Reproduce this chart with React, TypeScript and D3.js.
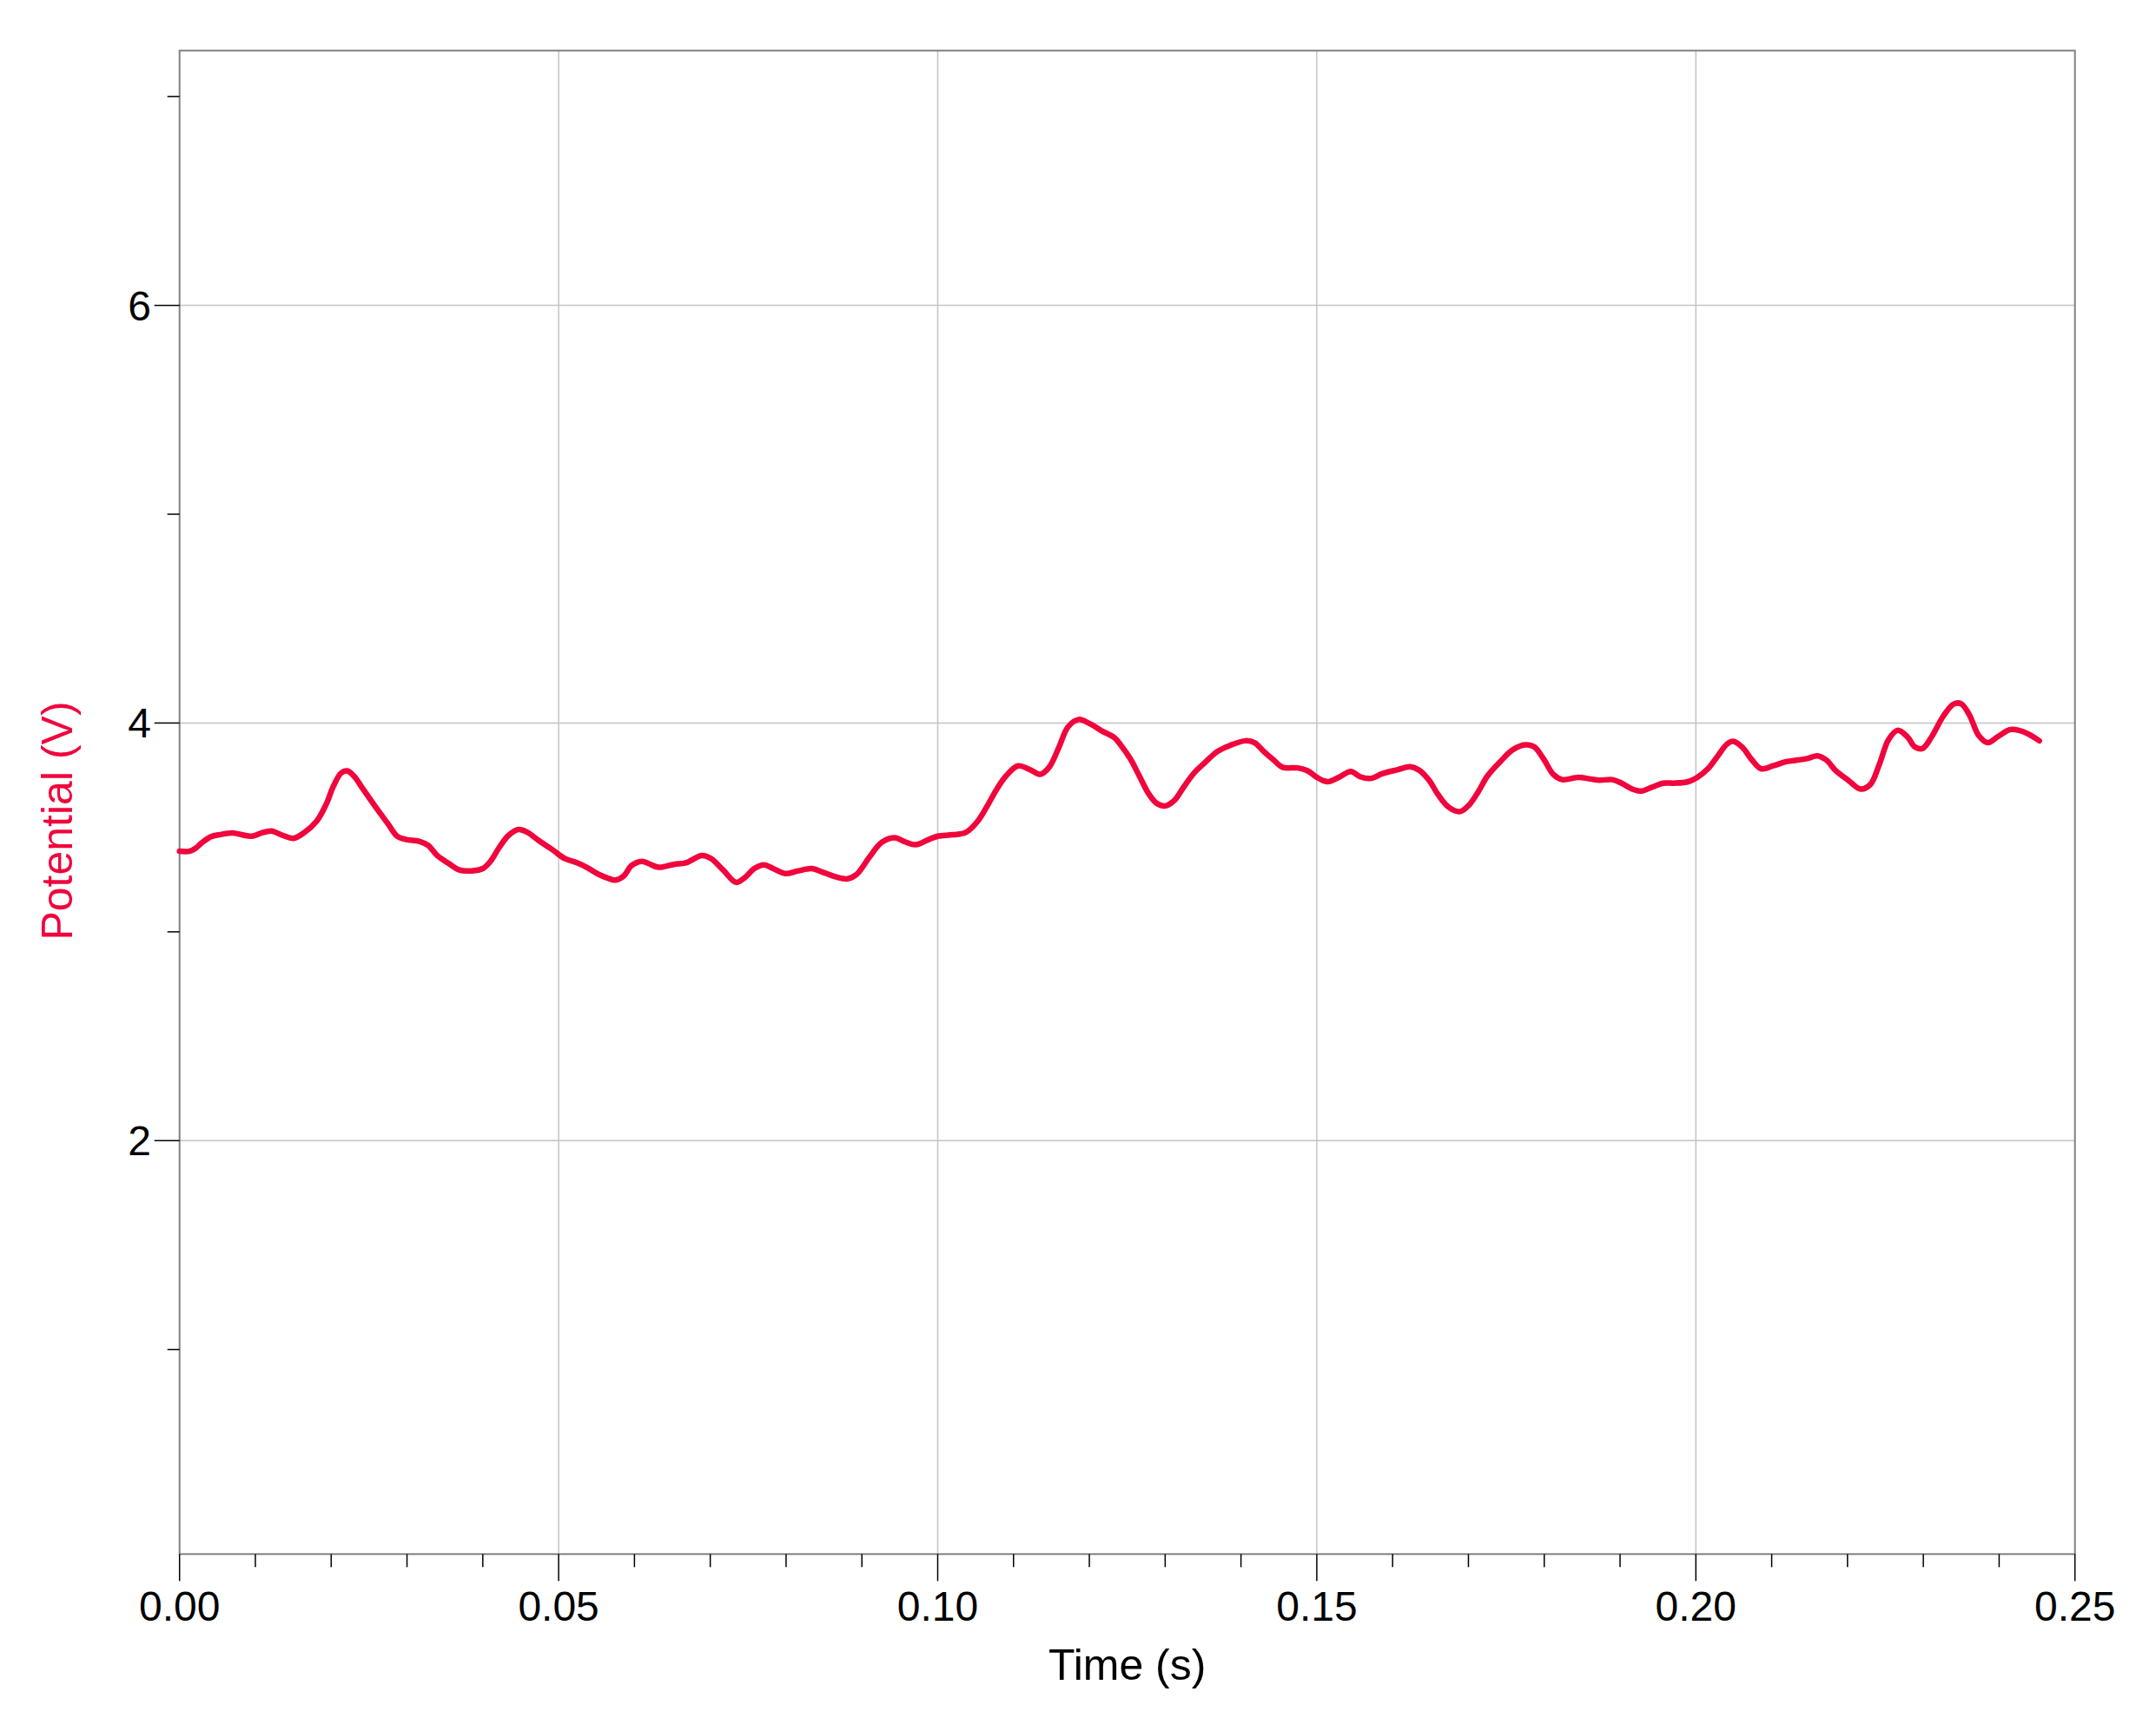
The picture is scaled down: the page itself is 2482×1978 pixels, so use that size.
import React from "react";
import * as d3 from "d3";

const timeS = [
  0.0, 0.0013, 0.0021, 0.0029, 0.0041, 0.0054, 0.007, 0.0082, 0.0095, 0.0107, 0.0121, 0.0136, 0.015, 0.0164,
  0.0181, 0.0193, 0.0203, 0.0213, 0.0221, 0.023, 0.0242, 0.0258, 0.0275, 0.0287, 0.0299, 0.0316, 0.0328,
  0.034, 0.0357, 0.0369, 0.0385, 0.04, 0.041, 0.0422, 0.0434, 0.0447, 0.0459, 0.0475, 0.0492, 0.0508, 0.0524,
  0.0537, 0.0553, 0.0565, 0.0575, 0.0586, 0.0596, 0.061, 0.0618, 0.0632, 0.0652, 0.0668, 0.0689, 0.0701,
  0.0717, 0.0734, 0.0746, 0.0758, 0.0771, 0.0783, 0.0799, 0.0816, 0.0834, 0.0848, 0.0865, 0.0881, 0.0893,
  0.091, 0.0926, 0.0943, 0.0957, 0.0971, 0.0988, 0.1, 0.102, 0.1037, 0.1053, 0.1065, 0.1078, 0.109, 0.1106,
  0.1123, 0.1135, 0.1147, 0.116, 0.1172, 0.1186, 0.1201, 0.1217, 0.1233, 0.1242, 0.1254, 0.1266, 0.1279,
  0.1289, 0.13, 0.1312, 0.1324, 0.1338, 0.1352, 0.1369, 0.1385, 0.1406, 0.1418, 0.143, 0.1443, 0.1455,
  0.1475, 0.1488, 0.15, 0.1514, 0.1529, 0.1545, 0.1557, 0.1572, 0.1586, 0.1607, 0.1623, 0.1635, 0.1648,
  0.166, 0.1674, 0.1689, 0.1701, 0.1713, 0.1725, 0.1742, 0.1758, 0.1775, 0.1787, 0.1799, 0.1812, 0.1824,
  0.1845, 0.1861, 0.1873, 0.189, 0.1902, 0.1916, 0.1928, 0.1943, 0.1957, 0.1971, 0.199, 0.2002, 0.2016,
  0.2029, 0.2041, 0.2049, 0.2061, 0.2074, 0.2086, 0.2102, 0.2119, 0.2135, 0.2149, 0.216, 0.2172, 0.2184,
  0.2201, 0.2217, 0.223, 0.2242, 0.2254, 0.2266, 0.2279, 0.2289, 0.2299, 0.2311, 0.2326, 0.234, 0.235,
  0.2361, 0.2373, 0.2385, 0.2398, 0.2414, 0.2426, 0.2438, 0.2453,
];

const potentialV = [
  3.386, 3.386, 3.4, 3.425, 3.455, 3.466, 3.474, 3.465, 3.458, 3.472, 3.483, 3.462, 3.448, 3.474,
  3.531, 3.608, 3.698, 3.76, 3.771, 3.746, 3.684, 3.601, 3.517, 3.458, 3.442, 3.434, 3.414,
  3.365, 3.323, 3.296, 3.292, 3.303, 3.337, 3.406, 3.462, 3.49, 3.476, 3.434, 3.393, 3.351, 3.331,
  3.309, 3.275, 3.257, 3.248, 3.268, 3.317, 3.337, 3.328, 3.309, 3.323, 3.331, 3.365, 3.351,
  3.296, 3.237, 3.261, 3.303, 3.321, 3.303, 3.279, 3.292, 3.303, 3.286, 3.264, 3.254, 3.275,
  3.358, 3.428, 3.451, 3.431, 3.417, 3.442, 3.458, 3.465, 3.476, 3.531, 3.601, 3.684, 3.746, 3.795,
  3.774, 3.754, 3.788, 3.885, 3.982, 4.017, 3.996, 3.961, 3.93, 3.892, 3.829, 3.746, 3.657,
  3.615, 3.603, 3.629, 3.691, 3.76, 3.809, 3.864, 3.892, 3.915, 3.906, 3.864, 3.823, 3.788,
  3.785, 3.771, 3.74, 3.719, 3.74, 3.768, 3.743, 3.735, 3.757, 3.777, 3.791, 3.774, 3.726,
  3.657, 3.597, 3.576, 3.608, 3.671, 3.746, 3.815, 3.871, 3.896, 3.885, 3.829, 3.754, 3.729,
  3.74, 3.732, 3.726, 3.729, 3.712, 3.684, 3.674, 3.694, 3.712, 3.712, 3.719, 3.74, 3.781,
  3.843, 3.899, 3.912, 3.885, 3.823, 3.781, 3.795, 3.815, 3.823, 3.832, 3.843, 3.823, 3.774,
  3.726, 3.684, 3.705, 3.802, 3.92, 3.965, 3.934, 3.885, 3.878, 3.934, 4.031, 4.091, 4.092,
  4.037, 3.94, 3.906, 3.934, 3.968, 3.965, 3.948, 3.915,
];

const xMajorTicks = [0, 0.05, 0.1, 0.15, 0.2, 0.25];
const xMajorLabels = ["0.00", "0.05", "0.10", "0.15", "0.20", "0.25"];
const xGridTicks = [0.05, 0.1, 0.15, 0.2];
const xMinorTicks = [0.01, 0.02, 0.03, 0.04, 0.06, 0.07, 0.08, 0.09, 0.11, 0.12, 0.13, 0.14, 0.16, 0.17, 0.18, 0.19, 0.21, 0.22, 0.23, 0.24];
const yMajorTicks = [2, 4, 6];
const yMajorLabels = ["2", "4", "6"];
const yMinorTicks = [1, 3, 5, 7];

const X_DOMAIN = [0, 0.25];
const Y_DOMAIN = [0.02, 7.22];

const RED = "#f0063c";
const FONT = "'Liberation Sans', Arial, sans-serif";

export default function App() {
  const W = 2482;
  const H = 1978;
  const left = 206.7;
  const right = 2388.7;
  const top = 58.3;
  const bottom = 1789.3;

  const x = d3.scaleLinear().domain(X_DOMAIN).range([left, right]);
  const y = d3.scaleLinear().domain(Y_DOMAIN).range([bottom, top]);

  const data = timeS.map((t, i) => [t, potentialV[i]] as [number, number]);
  const line = d3
    .line<[number, number]>()
    .x((d) => x(d[0]))
    .y((d) => y(d[1]))
    .curve(d3.curveCatmullRom.alpha(0.5));

  return (
    <svg
      width={W}
      height={H}
      style={{ position: "absolute", left: 0, top: 0, background: "#fff" }}
    >
      <rect x={0} y={0} width={W} height={H} fill="#fff" />
      {xGridTicks.map((t) => (
        <line key={"gx" + t} x1={x(t)} x2={x(t)} y1={top} y2={bottom} stroke="#c4c4c4" strokeWidth={1.5} />
      ))}
      {yMajorTicks.map((v) => (
        <line key={"gy" + v} x1={left} x2={right} y1={y(v)} y2={y(v)} stroke="#c4c4c4" strokeWidth={1.5} />
      ))}
      <rect x={left} y={top} width={right - left} height={bottom - top} fill="none" stroke="#808080" strokeWidth={2} />
      {xMajorTicks.map((t, i) => (
        <g key={"xt" + t}>
          <line x1={x(t)} x2={x(t)} y1={bottom} y2={bottom + 31} stroke="#000" strokeWidth={1.5} />
          <text x={x(t)} y={1866} textAnchor="middle" fontFamily={FONT} fontSize={48} fill="#000">
            {xMajorLabels[i]}
          </text>
        </g>
      ))}
      {xMinorTicks.map((t) => (
        <line key={"xm" + t} x1={x(t)} x2={x(t)} y1={bottom} y2={bottom + 15} stroke="#000" strokeWidth={1.5} />
      ))}
      {yMajorTicks.map((v, i) => (
        <g key={"yt" + v}>
          <line x1={left - 29} x2={left} y1={y(v)} y2={y(v)} stroke="#000" strokeWidth={1.5} />
          <text x={174} y={y(v) + 17} textAnchor="end" fontFamily={FONT} fontSize={48} fill="#000">
            {yMajorLabels[i]}
          </text>
        </g>
      ))}
      {yMinorTicks.map((v) => (
        <line key={"ym" + v} x1={left - 14} x2={left} y1={y(v)} y2={y(v)} stroke="#000" strokeWidth={1.5} />
      ))}
      <path d={line(data) || ""} fill="none" stroke={RED} strokeWidth={6.5} strokeLinejoin="round" strokeLinecap="round" />
      <text x={(left + right) / 2} y={1934} textAnchor="middle" fontFamily={FONT} fontSize={50} fill="#000">
        Time (s)
      </text>
      <text
        transform={`translate(83,945) rotate(-90)`}
        textAnchor="middle"
        fontFamily={FONT}
        fontSize={50}
        fill={RED}
      >
        Potential (V)
      </text>
    </svg>
  );
}
